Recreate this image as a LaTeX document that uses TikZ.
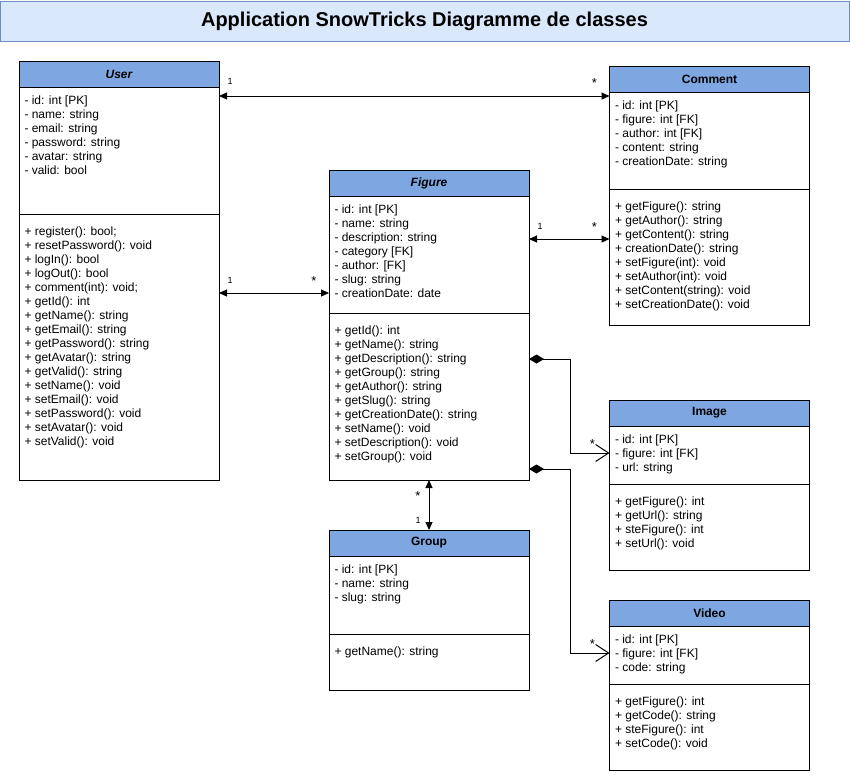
\documentclass[tikz,border=0pt]{standalone}
\usepackage{fontspec}
\setmainfont{Liberation Sans}
\usetikzlibrary{positioning,arrows.meta}
\definecolor{headblue}{HTML}{7EA6E0}
\definecolor{titlefill}{HTML}{DAE8FC}
\definecolor{titledraw}{HTML}{6C8EBF}

\begin{document}
\begin{tikzpicture}[x=1pt,y=-1pt,line width=1pt]
  \tikzstyle{head}=[draw,fill=headblue,minimum width=200pt,minimum height=26pt,inner sep=0pt,outer sep=0pt,font=\fontsize{12}{14}\selectfont\bfseries]
  \tikzstyle{ital}=[font=\fontsize{12}{14}\selectfont\bfseries\itshape]
  \tikzstyle{box}=[draw,fill=white,minimum width=200pt,inner sep=0pt,outer sep=0pt]
  \tikzstyle{txt}=[align=left,inner sep=0pt,font=\fontsize{12}{14}\selectfont]
  \tikzstyle{mult}=[inner sep=0pt,font=\fontsize{9}{10}\selectfont]
  \tikzstyle{many}=[mult,font=\fontsize{13}{14}\selectfont]
  \tikzstyle{assoc}=[{Triangle[length=8pt,width=7pt]}-{Triangle[length=8pt,width=7pt]}]
  \tikzstyle{comp}=[{Diamond[length=15pt,width=9pt]}-{Straight Barb[length=13pt,width=17pt]}]

  \useasboundingbox (0,0) rectangle (850,774);

  \node[draw=titledraw,fill=titlefill,minimum width=849pt,minimum height=40pt,inner sep=0pt,
        font=\fontsize{20}{24}\selectfont\bfseries] (title) at (424.5,21) {Application SnowTricks Diagramme de classes};

  % User
  \node[head,ital] (user) at (119,74) {User};
  \node[box,minimum height=127pt,below=0pt of user] (userattr) {};
  \node[box,minimum height=266pt,below=0pt of userattr] (usermeth) {};
  \node[txt,below right=8pt and 5pt of userattr.north west] (userattrtxt)
    {- id: int [PK]\\- name: string\\- email: string\\- password: string\\- avatar: string\\- valid: bool};
  \node[txt,below right=12pt and 5pt of usermeth.north west] (usermethtxt)
    {+ register(): bool;\\+ resetPassword(): void\\+ logIn(): bool\\+ logOut(): bool\\+ comment(int): void;\\
     + getId(): int\\+ getName(): string\\+ getEmail(): string\\+ getPassword(): string\\+ getAvatar(): string\\
     + getValid(): string\\+ setName(): void\\+ setEmail(): void\\+ setPassword(): void\\+ setAvatar(): void\\
     + setValid(): void};

  % Comment
  \node[head] (comment) at (709.5,79) {Comment};
  \node[box,minimum height=97pt,below=0pt of comment] (commentattr) {};
  \node[box,minimum height=136pt,below=0pt of commentattr] (commentmeth) {};
  \node[txt,below right=8pt and 5pt of commentattr.north west] (commentattrtxt)
    {- id: int [PK]\\- figure: int [FK]\\- author: int [FK]\\- content: string\\- creationDate: string};
  \node[txt,below right=12pt and 5pt of commentmeth.north west] (commentmethtxt)
    {+ getFigure(): string\\+ getAuthor(): string\\+ getContent(): string\\+ creationDate(): string\\
     + setFigure(int): void\\+ setAuthor(int): void\\+ setContent(string): void\\+ setCreationDate(): void};

  % Figure
  \node[head,ital] (figure) at (429,183) {Figure};
  \node[box,minimum height=117pt,below=0pt of figure] (figureattr) {};
  \node[box,minimum height=167pt,below=0pt of figureattr] (figuremeth) {};
  \node[txt,below right=8pt and 5pt of figureattr.north west] (figureattrtxt)
    {- id: int [PK]\\- name: string\\- description: string\\- category [FK]\\- author: [FK]\\- slug: string\\
     - creationDate: date};
  \node[txt,below right=12pt and 5pt of figuremeth.north west] (figuremethtxt)
    {+ getId(): int\\+ getName(): string\\+ getDescription(): string\\+ getGroup(): string\\+ getAuthor(): string\\
     + getSlug(): string\\+ getCreationDate(): string\\+ setName(): void\\+ setDescription(): void\\
     + setGroup(): void};

  % Image
  \node[head] (image) at (709.5,413) {Image};
  \node[box,minimum height=58pt,below=0pt of image] (imageattr) {};
  \node[box,minimum height=86pt,below=0pt of imageattr] (imagemeth) {};
  \node[txt,below right=8pt and 5pt of imageattr.north west] (imageattrtxt)
    {- id: int [PK]\\- figure: int [FK]\\- url: string};
  \node[txt,below right=12pt and 5pt of imagemeth.north west] (imagemethtxt)
    {+ getFigure(): int\\+ getUrl(): string\\+ steFigure(): int\\+ setUrl(): void};

  % Group
  \node[head] (group) at (429,543) {Group};
  \node[box,minimum height=78pt,below=0pt of group] (groupattr) {};
  \node[box,minimum height=56pt,below=0pt of groupattr] (groupmeth) {};
  \node[txt,below right=8pt and 5pt of groupattr.north west] (groupattrtxt)
    {- id: int [PK]\\- name: string\\- slug: string};
  \node[txt,below right=12pt and 5pt of groupmeth.north west] (groupmethtxt)
    {+ getName(): string};

  % Video
  \node[head] (video) at (709.5,613) {Video};
  \node[box,minimum height=58pt,below=0pt of video] (videoattr) {};
  \node[box,minimum height=86pt,below=0pt of videoattr] (videometh) {};
  \node[txt,below right=8pt and 5pt of videoattr.north west] (videoattrtxt)
    {- id: int [PK]\\- figure: int [FK]\\- code: string};
  \node[txt,below right=12pt and 5pt of videometh.north west] (videomethtxt)
    {+ getFigure(): int\\+ getCode(): string\\+ steFigure(): int\\+ setCode(): void};

  % associations
  \draw[assoc] ([yshift=-9pt]userattr.north east)
    -- node[mult,pos=0,anchor=base west,xshift=8pt,yshift=12pt] (m1) {1}
       node[many,pos=1,anchor=base east,xshift=-12pt,yshift=9pt] (m2) {*}
       ([yshift=-4pt]commentattr.north west);
  \draw[assoc] ([yshift=-79pt]usermeth.north east)
    -- node[mult,pos=0,anchor=base west,xshift=8pt,yshift=10pt] (m3) {1}
       node[many,pos=1,anchor=base east,xshift=-12pt,yshift=8pt] (m4) {*}
       ([yshift=-97pt]figureattr.north west);
  \draw[assoc] ([yshift=-43pt]figureattr.north east)
    -- node[mult,pos=0,anchor=base west,xshift=8pt,yshift=10pt] (m5) {1}
       node[many,pos=1,anchor=base east,xshift=-12pt,yshift=8pt] (m6) {*}
       ([yshift=-50pt]commentmeth.north west);
  \draw[assoc] (figuremeth.south)
    -- node[many,pos=0,anchor=base east,xshift=-8pt,yshift=-20pt] (m7) {*}
       node[mult,pos=1,anchor=base east,xshift=-8pt,yshift=7pt] (m8) {1}
       (group.north);

  % compositions
  \draw[comp] ([yshift=-46pt]figuremeth.north east) -- ++(41pt,0pt)
    |- node[many,pos=1,anchor=base east,xshift=-14pt,yshift=5pt] (m9) {*}
       ([yshift=-27pt]imageattr.north west);
  \draw[comp] ([yshift=-156pt]figuremeth.north east) -- ++(41pt,0pt)
    |- node[many,pos=1,anchor=base east,xshift=-14pt,yshift=5pt] (m10) {*}
       ([yshift=-27pt]videoattr.north west);
\end{tikzpicture}
\end{document}
